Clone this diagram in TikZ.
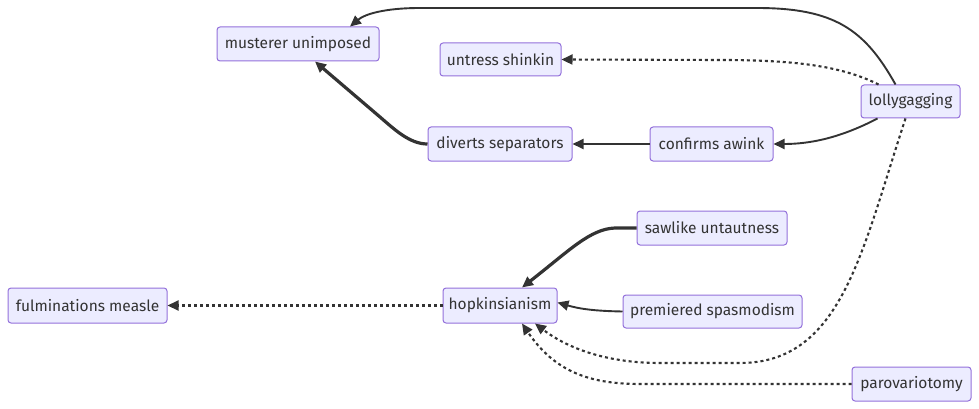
\documentclass[tikz,border=0pt]{standalone}
\usepackage{fontspec}
\setmainfont{Fira Sans}
\usetikzlibrary{arrows.meta}
\definecolor{nodefill}{HTML}{ECECFF}
\definecolor{nodeline}{HTML}{9370DB}
\definecolor{ink}{HTML}{333333}
\begin{document}
\begin{tikzpicture}[x=1pt,y=-1pt,
  box/.style={draw=nodeline,fill=nodefill,line width=1pt,rounded corners=3pt,
    inner sep=0pt,minimum height=34pt,text=ink,
    font=\fontsize{15.5}{18}\selectfont},
  link/.style={draw=ink,line width=1.9pt,-{Triangle[length=11pt,width=10pt]}},
  thicklink/.style={link,line width=3.2pt},
  dotlink/.style={link,line width=2.1pt,dash pattern=on 3pt off 3pt}]
\useasboundingbox (0,0) rectangle (979,409);

\node[box,minimum width=162pt] (mu) at (298,44) {musterer unimposed};
\node[box,minimum width=121pt,minimum height=33pt] (us) at (500.5,59.5) {untress shinkin};
\node[box,minimum width=144pt] (ds) at (500,144) {diverts separators};
\node[box,minimum width=123pt] (ca) at (711.5,144) {confirms awink};
\node[box,minimum width=99pt,minimum height=33pt] (lg) at (910.5,101.5) {lollygagging};
\node[box,minimum width=150pt] (su) at (712,228) {sawlike untautness};
\node[box,minimum width=114pt,minimum height=35pt] (hk) at (500,305.5) {hopkinsianism};
\node[box,minimum width=179pt,minimum height=33pt] (ps) at (712.5,311.5) {premiered spasmodism};
\node[box,minimum width=119pt] (pv) at (911.5,384) {parovariotomy};
\node[box,minimum width=159pt,minimum height=35pt] (fm) at (87.5,305.5) {fulminations measle};

% lollygagging -> musterer unimposed
\draw[link] ([xshift=-15pt]lg.north) .. controls (865,30) and (835,8) .. (757,8)
  -- (420,8) .. controls (385,8) and (365,14) .. ([xshift=52pt]mu.north);
% lollygagging -> untress shinkin
\draw[dotlink] ([xshift=-32pt]lg.north) .. controls (840,65) and (790,60) .. (720,60)
  -- (us.east);
% lollygagging -> confirms awink
\draw[link] ([xshift=-33pt]lg.south) .. controls (840,138) and (810,144) .. (ca.east);
% confirms awink -> diverts separators
\draw[link] (ca.west) -- (ds.east);
% diverts separators -> musterer unimposed
\draw[thicklink] (ds.west) .. controls (410,144) and (395,130) .. (380,117)
  -- ([xshift=17pt]mu.south);
% sawlike untautness -> hopkinsianism
\draw[thicklink] (su.west) -- (615,228) .. controls (590,229) and (570,250)
  .. ([xshift=22pt]hk.north);
% premiered spasmodism -> hopkinsianism
\draw[link] (ps.west) .. controls (595,311) and (580,309) .. ([yshift=3pt]hk.east);
% lollygagging -> hopkinsianism
\draw[dotlink] ([xshift=-5pt]lg.south) .. controls (862,250) and (842,363) .. (740,363)
  -- (660,363) .. controls (610,363) and (570,350) .. ([xshift=35pt]hk.south);
% parovariotomy -> hopkinsianism
\draw[dotlink] (pv.west) -- (640,384) .. controls (590,384) and (555,372)
  .. ([xshift=22pt]hk.south);
% hopkinsianism -> fulminations measle
\draw[dotlink] (hk.west) -- (fm.east);
\end{tikzpicture}
\end{document}
